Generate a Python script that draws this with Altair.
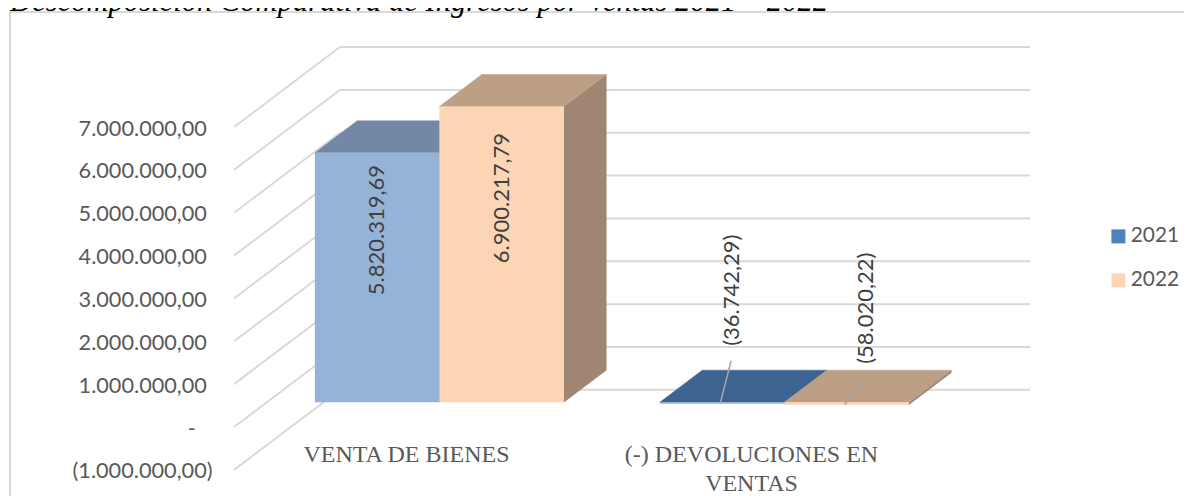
import json
import altair as alt
import pandas as pd

# ---- data ----
title_text = ["Descomposición Comparativa de Ingresos por Ventas 2021 – 2022"]
categories = ["VENTA DE BIENES", "(-) DEVOLUCIONES EN\nVENTAS"]
series = ["2021", "2022"]
values_2021 = [5820319.69, -36742.29]
values_2022 = [6900217.79, -58020.22]
labels_2021 = ["5.820.319,69", "(36.742,29)"]
labels_2022 = ["6.900.217,79", "(58.020,22)"]
tick_values = [7000000, 6000000, 5000000, 4000000, 3000000, 2000000, 1000000, 0, -1000000]
NB = "\u00a0\u200b"
tick_labels = ["7.000.000,00" + NB, "6.000.000,00" + NB, "5.000.000,00" + NB, "4.000.000,00" + NB,
               "3.000.000,00" + NB, "2.000.000,00" + NB, "1.000.000,00" + NB, "-" + NB * 3, "(1.000.000,00)"]

# ---- look ----
SANS = "Lato"
SERIF = "Liberation Serif"
GRID = "#D9D9D9"
TEXT = "#404040"
AXIS_TEXT = "#595959"
LEGEND_COLORS = ["#4F81BD", "#FBD5B5"]
FRONT = {"2021": "#95B3D7", "2022": "#FCD5B5"}
SIDE = {"2021": "#6F87A6", "2022": "#A08672"}
TOP_POS = {"2021": "#7388A6", "2022": "#BD9F85"}
TOP_NEG = {"2021": "#3D6491", "2022": "#BD9F85"}
FONT_SIZE = 21.7

# ---- oblique projection: scale units per pixel ----
PX_CAT = 345.0            # one category along the floor
PX_VAL = 42.85 / 1e6      # pixels per currency unit
W, H = 950, 488           # plot size
PAD_LEFT = 226
ORIGIN_Y = 419.0          # zero line of front plane, from plot top
DEPTH_X = 106 / PX_CAT    # full floor depth
DEPTH_Y = 80 / PX_VAL
BAR_T0, BAR_T1 = 0.31, 0.71
GAP = 48 / PX_CAT
BAR_W = (1 - 2 * GAP) / 2


def dxpx(p):
    return p / PX_CAT


def dypx(p):
    return p / PX_VAL


x_scale = alt.Scale(domain=[0, W / PX_CAT], nice=False, zero=False)
y_scale = alt.Scale(domain=[(ORIGIN_Y - H) / PX_VAL, ORIGIN_Y / PX_VAL], nice=False, zero=False)
label_lookup = json.dumps({str(v): l for v, l in zip(tick_values, tick_labels)}, ensure_ascii=False)
X = alt.X("x:Q", scale=x_scale, axis=None)
Y = alt.Y("y:Q", scale=y_scale, axis=alt.Axis(
    values=tick_values, title=None, domain=False, ticks=False, grid=False,
    labelExpr=f"{label_lookup}[''+datum.value]", labelFont=SANS, labelFontSize=FONT_SIZE,
    labelColor=AXIS_TEXT, labelPadding=22, labelOffset=1, labelOverlap=False, labelFlush=False))


def face(rows, color):
    return alt.Chart(pd.DataFrame(rows)).mark_area(
        color=color, opacity=1, interpolate="linear", orient="vertical", stroke=color, strokeWidth=0.5
    ).encode(x=X, y=Y, y2="y2:Q")


def rect(rows, color):
    return alt.Chart(pd.DataFrame(rows)).mark_rect(color=color, opacity=1).encode(
        x=X, x2="x2:Q", y=Y, y2="y2:Q",
    )


# ---- wall / floor gridlines ----
grid_rows = []
for t in tick_values:
    grid_rows += [
        {"tick": t, "o": 0, "x": 0, "y": t},
        {"tick": t, "o": 1, "x": DEPTH_X, "y": t + DEPTH_Y},
        {"tick": t, "o": 2, "x": 2 + DEPTH_X, "y": t + DEPTH_Y},
    ]
grid = alt.Chart(pd.DataFrame(grid_rows)).mark_line(color=GRID, strokeWidth=2).encode(
    x=X, y=Y, detail="tick:N", order="o:Q",
)

# ---- chart frame (top and left edges) ----
frame_x = dxpx(10 - 234)
frame = alt.Chart(pd.DataFrame([
    {"x": frame_x, "y": (ORIGIN_Y - H) / PX_VAL, "o": 0},
    {"x": frame_x, "y": (ORIGIN_Y - 4) / PX_VAL, "o": 1},
    {"x": W / PX_CAT, "y": (ORIGIN_Y - 4) / PX_VAL, "o": 2},
])).mark_line(color=GRID, strokeWidth=2, clip=False).encode(x=X, y=Y, order="o:Q")

# ---- 3D bars ----
layers = []
dx = (BAR_T1 - BAR_T0) * DEPTH_X
dy = (BAR_T1 - BAR_T0) * DEPTH_Y
shift_x = BAR_T0 * DEPTH_X
shift_y = BAR_T0 * DEPTH_Y
for si, (name, vals) in enumerate(zip(series, [values_2021, values_2022])):
    for ci, v in enumerate(vals):
        xa = ci + GAP + si * BAR_W + shift_x
        xb = xa + BAR_W
        hi = max(v, 0) + shift_y
        lo = min(v, 0) + shift_y
        # side
        layers.append(face([
            {"x": xb, "y": hi, "y2": lo},
            {"x": xb + dx, "y": hi + dy, "y2": lo + dy},
        ], SIDE[name]))
        # top
        top_color = TOP_POS[name] if v > 0 else TOP_NEG[name]
        layers.append(face([
            {"x": xa, "y": hi, "y2": hi},
            {"x": xa + dx, "y": hi + dy, "y2": hi},
            {"x": xb, "y": hi + dy, "y2": hi},
            {"x": xb + dx, "y": hi + dy, "y2": hi + dy},
        ], top_color))
        # front
        layers.append(rect([{"x": xa, "x2": xb, "y": hi, "y2": lo}], FRONT[name]))

# ---- leader lines and rotated data labels ----
LABEL_SHARE = 0.69                # big bars: label sits at this share of the height
NEG_LABEL_DX = [dxpx(10), dxpx(19)]
NEG_LABEL_LIFT = [dypx(112), dypx(94)]
LEADER_START_DX = [dxpx(-2), dxpx(-2)]
LEADER_END = [(dxpx(11), dypx(43)), (dxpx(19), dypx(26))]

label_rows, leader_rows = [], []
for si, (vals, labs) in enumerate(zip([values_2021, values_2022], [labels_2021, labels_2022])):
    for ci, (v, lab) in enumerate(zip(vals, labs)):
        xc = ci + GAP + (si + 0.5) * BAR_W + shift_x
        if v > 0:
            label_rows.append({"x": xc, "y": v * LABEL_SHARE + shift_y, "t": lab})
        else:
            label_rows.append({"x": xc + NEG_LABEL_DX[si], "y": NEG_LABEL_LIFT[si] + shift_y, "t": lab})
            ex, ey = LEADER_END[si]
            x0 = xc + LEADER_START_DX[si]
            leader_rows += [
                {"id": si, "x": x0, "y": v + shift_y, "o": 0},
                {"id": si, "x": x0 + ex, "y": v + shift_y + ey, "o": 1},
            ]

leaders = alt.Chart(pd.DataFrame(leader_rows)).mark_line(color="#A6A6A6", strokeWidth=1.5).encode(
    x=X, y=Y, detail="id:N", order="o:Q")

value_text = alt.Chart(pd.DataFrame(label_rows)).mark_text(
    angle=270, font=SANS, fontSize=22, color=TEXT, align="center", baseline="middle"
).encode(x=X, y=Y, text="t:N")

# ---- category labels ----
CAT_LABEL_Y = dypx(-16)
cat_text = alt.Chart(pd.DataFrame({
    "x": [i + 0.5 for i in range(len(categories))],
    "y": [CAT_LABEL_Y] * len(categories),
    "t": categories,
})).mark_text(
    font=SERIF, fontSize=24, color=AXIS_TEXT, align="center", baseline="top",
    lineBreak="\n", lineHeight=29,
).encode(x=X, y=Y, text="t:N")

# ---- title (its upper part runs off the page in the reference too) ----
title = alt.Chart(pd.DataFrame({"x": [dxpx(10 - 234)], "y": [(ORIGIN_Y - 3) / PX_VAL], "t": title_text})).mark_text(
    font=SERIF, fontSize=30.6, fontStyle="italic", color="#000000", align="left", baseline="alphabetic",
).encode(x=X, y=Y, text="t:N")

# ---- legend ----
legend_layer = alt.Chart(pd.DataFrame({"s": series, "x": [0, 0], "y": [0, 0]})).mark_point(
    filled=True, size=0, opacity=1
).encode(
    x=X, y=Y,
    color=alt.Color("s:N", scale=alt.Scale(domain=series, range=LEGEND_COLORS), legend=alt.Legend(
        title=None, orient="none", legendX=874, legendY=218, symbolType="square", symbolSize=196,
        symbolStrokeWidth=0, labelFont=SANS, labelFontSize=20.8, labelColor=AXIS_TEXT,
        rowPadding=22, labelOffset=2, padding=0)),
)

chart = alt.layer(grid, frame, *layers, leaders, value_text, cat_text, title, legend_layer).properties(
    width=W, height=H, autosize=alt.AutoSizeParams(type="none"),
    padding={"left": PAD_LEFT, "top": 0, "right": 0, "bottom": 0}, background="white",
).configure_view(stroke=None)

chart.save("out.html", embed_options={"renderer": "svg", "actions": False})
